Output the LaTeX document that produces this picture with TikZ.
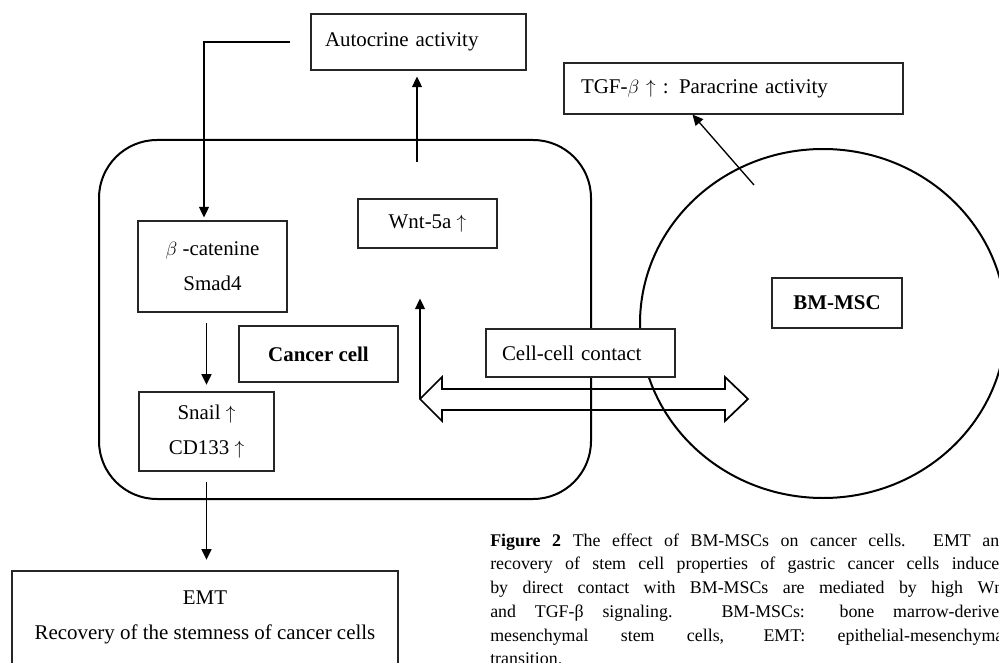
\documentclass[tikz,border=0pt]{standalone}
\usepackage{fontspec}
\setmainfont{Liberation Serif}
\usetikzlibrary{arrows.meta, calc, shapes.geometric}

\tikzset{
  box/.style={draw=black!85, line width=0.8pt, fill=white, inner sep=0pt, align=center},
  wall/.style={draw, line width=1.5pt},
  link/.style={->, line width=1pt},
}

\begin{document}
\begin{tikzpicture}[x=0.75pt, y=-0.75pt, >={Triangle[length=8pt, width=7.5pt]},
  font=\fontsize{15.7pt}{26.25pt}\selectfont]

  % frame of the figure
  \clip (0,0) rectangle (999,663);

  % 1. The two cells
  \node[wall, rounded corners=43.5pt, minimum width=369pt, minimum height=269.25pt] (cell) at (345,319.5) {};
  \node[wall, ellipse, inner sep=0pt, minimum width=274.5pt, minimum height=261.75pt] (msc) at (823,323.5) {};

  % 2. Contact between them (block arrow)
  \coordinate (contactL) at (420,399);
  \coordinate (contactR) at (748,399);
  \draw[line width=1.3pt, line join=miter] (contactL) -- (442,377) -- (442,389) -- (725,389)
    -- (725,377) -- (contactR) -- (725,421) -- (725,410) -- (442,410) -- (442,421) -- cycle;

  % 3. Boxes
  \node[box, inner xsep=10.5pt, text width=140.25pt, align=left, minimum height=42pt] (auto) at (418.5,42) {Autocrine activity};
  \node[box, inner xsep=12.75pt, text width=228.75pt, align=left, minimum height=38.25pt] (tgf) at (733.5,88.5) {TGF-$\beta$ $\uparrow$ : Paracrine activity};
  \node[box, minimum width=111.75pt, minimum height=68.25pt] (beta) at (212.5,266.5) {$\beta$ -catenine\\Smad4};
  \node[box, minimum width=104.25pt, minimum height=36.75pt] (wnt) at (427.5,223.5) {Wnt-5a $\uparrow$};
  \node[box, minimum width=119.25pt, minimum height=42pt] (cancer) at (318.5,354) {\textbf{Cancer cell}};
  \node[box, minimum width=101.25pt, minimum height=59.25pt] (snail) at (206.5,431.5) {Snail $\uparrow$\\CD133 $\uparrow$};
  \node[box, inner xsep=12pt, text width=117.75pt, align=left, minimum height=36pt] (contact) at (580.5,353) {Cell-cell contact};
  \node[box, minimum width=97.5pt, minimum height=37.5pt] (bm) at (837,303) {\textbf{BM-MSC}};
  \node[box, minimum width=289.5pt, minimum height=69.75pt] (emt) at (205,617.5) {EMT\\Recovery of the stemness of cancer cells};

  % 4. Arrows
  \coordinate (loop) at (290,42);
  \draw[link] (loop) -| ($(beta.north)+(-8.5,-3)$);
  \coordinate (wntfoot) at (417,162);
  \draw[link] (wntfoot) -- ($(auto.south)+(-1.5,6)$);
  \draw[link, shorten <=8pt, shorten >=5pt] (snail.north |- beta.south) -- (snail.north);
  \draw[link, shorten <=8pt, shorten >=8pt] (snail.south) -- (snail.south |- emt.north);
  \draw[link, shorten >=37.5pt] (contactL) -- (contactL |- wnt.south);
  \coordinate (tgffoot) at (754,185);
  \draw[link] (tgffoot) -- ($(tgf.south west)+(129,0)$);

  % 5. Caption (runs past the right edge)
  \begin{scope}[font=\fontsize{13.4pt}{17.6pt}\selectfont, every node/.style={anchor=base west, inner sep=0pt}]
    \node (cap1) at (490,546) {\makebox[388.5pt][s]{\textbf{Figure 2} The effect of BM-MSCs on cancer cells. EMT and}};
    \node (cap2) at (490,569.5) {\makebox[388.5pt][s]{recovery of stem cell properties of gastric cancer cells induced}};
    \node (cap3) at (490,593) {\makebox[388.5pt][s]{by direct contact with BM-MSCs are mediated by high Wnt}};
    \node (cap4) at (490,617) {\makebox[388.5pt][s]{and TGF-β signaling. BM-MSCs: bone marrow-derived}};
    \node (cap5) at (490,641) {\makebox[388.5pt][s]{mesenchymal stem cells, EMT: epithelial-mesenchymal}};
    \node (cap6) at (490,664.5) {transition.};
  \end{scope}

\end{tikzpicture}
\end{document}
